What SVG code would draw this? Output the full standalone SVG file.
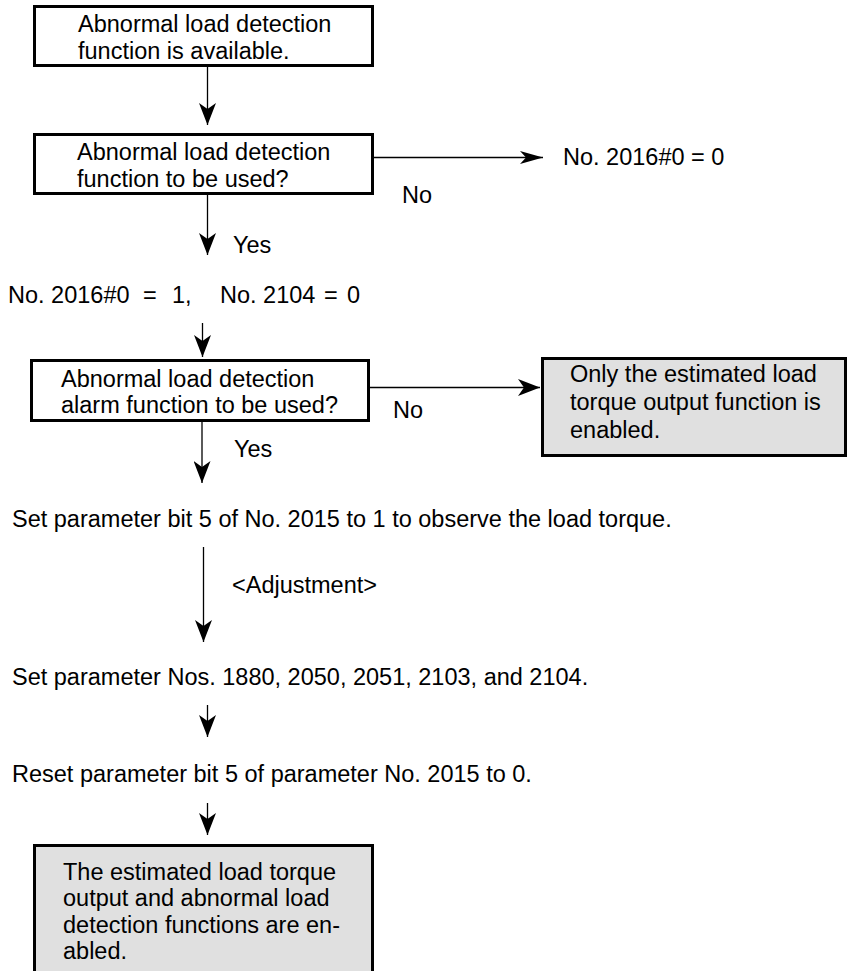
<svg xmlns="http://www.w3.org/2000/svg" width="853" height="971" viewBox="0 0 853 971">
<style>
text{font-family:"Liberation Sans",Arial,Helvetica,sans-serif;font-size:23.5px;fill:#000}
.box{fill:#fff;stroke:#000;stroke-width:3}
.gbox{fill:#e0e0e0;stroke:#000;stroke-width:3}
.ln{stroke:#000;stroke-width:1.3;fill:none}
</style>
<defs>
<marker id="ah" markerUnits="userSpaceOnUse" viewBox="0 0 22 17" refX="22" refY="8.5" markerWidth="22" markerHeight="17" orient="auto">
<path d="M0,0 L22,8.5 L0,17 L6,8.5 Z" fill="#000"/>
</marker>
<marker id="ahs" markerUnits="userSpaceOnUse" viewBox="0 0 23 13" refX="23" refY="6.5" markerWidth="23" markerHeight="13" orient="auto">
<path d="M0,0 L23,6.5 L0,13 L6,6.5 Z" fill="#000"/>
</marker>
</defs>
<rect width="853" height="971" fill="#fff"/>
<g id="connectors">
<line class="ln" x1="207.5" y1="67" x2="207.5" y2="125" marker-end="url(#ah)"/>
<line class="ln" x1="374" y1="157.5" x2="543" y2="157.5" marker-end="url(#ahs)"/>
<line class="ln" x1="207.5" y1="195" x2="207.5" y2="255" marker-end="url(#ah)"/>
<line class="ln" x1="202.5" y1="323" x2="202.5" y2="357" marker-end="url(#ah)"/>
<line class="ln" x1="370" y1="387.5" x2="540" y2="387.5" marker-end="url(#ah)"/>
<line class="ln" x1="202" y1="422" x2="202" y2="483" marker-end="url(#ah)"/>
<line class="ln" x1="203.5" y1="547" x2="203.5" y2="642" marker-end="url(#ah)"/>
<line class="ln" x1="207.5" y1="705" x2="207.5" y2="737" marker-end="url(#ah)"/>
<line class="ln" x1="207.5" y1="803" x2="207.5" y2="835" marker-end="url(#ah)"/>
<text x="402" y="203">No</text>
<text x="233" y="253">Yes</text>
<text x="393" y="418">No</text>
<text x="234" y="457">Yes</text>
<text x="232" y="593">&lt;Adjustment&gt;</text>
</g>
<g id="n1">
<rect class="box" x="34.5" y="6.5" width="338" height="59"/>
<text x="78" y="32">Abnormal load detection</text>
<text x="78" y="59">function is available.</text>
</g>
<g id="n2">
<rect class="box" x="34.5" y="134.5" width="338" height="59"/>
<text x="77" y="160">Abnormal load detection</text>
<text x="77" y="187">function to be used?</text>
</g>
<g id="n3">
<text x="563" y="165">No. 2016#0 = 0</text>
</g>
<g id="n4">
<text y="303"><tspan x="8">No. 2016#0</tspan><tspan x="143">=</tspan><tspan x="172">1,</tspan><tspan x="220">No. 2104</tspan><tspan x="324">=</tspan><tspan x="347">0</tspan></text>
</g>
<g id="n5">
<rect class="box" x="31.5" y="360.5" width="337" height="60"/>
<text x="61" y="387">Abnormal load detection</text>
<text x="61" y="413">alarm function to be used?</text>
</g>
<g id="n6">
<rect class="gbox" x="542.5" y="358.5" width="303" height="97"/>
<text x="570" y="382">Only the estimated load</text>
<text x="570" y="410">torque output function is</text>
<text x="570" y="438">enabled.</text>
</g>
<g id="n7">
<text x="12" y="527">Set parameter bit 5 of No. 2015 to 1 to observe the load torque.</text>
</g>
<g id="n8">
<text x="12" y="685">Set parameter Nos. 1880, 2050, 2051, 2103, and 2104.</text>
</g>
<g id="n9">
<text x="12" y="782">Reset parameter bit 5 of parameter No. 2015 to 0.</text>
</g>
<g id="n10">
<rect class="gbox" x="34.5" y="845.5" width="338" height="140"/>
<text x="63" y="880">The estimated load torque</text>
<text x="63" y="906">output and abnormal load</text>
<text x="63" y="933">detection functions are en-</text>
<text x="63" y="959">abled.</text>
</g>
</svg>
